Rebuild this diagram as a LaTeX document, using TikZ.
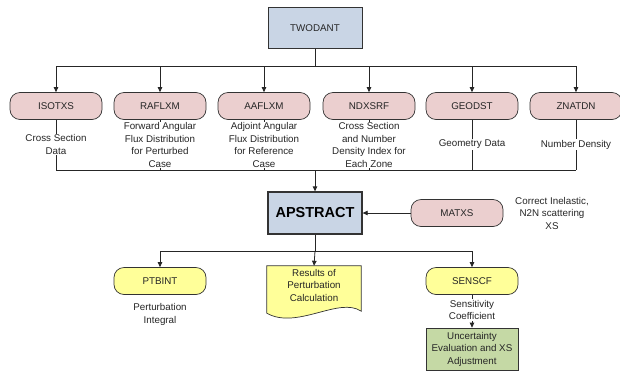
\documentclass[tikz,border=0pt]{standalone}
\usepackage{fontspec}
\setmainfont{Liberation Sans}
\usetikzlibrary{arrows.meta,backgrounds}
\definecolor{pinkf}{HTML}{EBCFCF}
\definecolor{bluef}{HTML}{C9D5E5}
\definecolor{yelf}{HTML}{FFFF99}
\definecolor{greenf}{HTML}{C5D9A5}
\definecolor{txt}{HTML}{262626}
\begin{document}
\begin{tikzpicture}[x=1pt,y=-1pt,
  font=\fontsize{9.8}{12.5}\selectfont, text=txt,
  conn/.style={line width=0.8pt, draw=black!85},
  arr/.style={conn,-{Triangle[length=5pt,width=4.5pt]}},
  bluebox/.style={draw=black!80, line width=0.8pt, fill=bluef, minimum width=94pt, minimum height=41pt, inner sep=0pt},
  pinkbox/.style={draw=black!80, line width=0.7pt, fill=pinkf, rounded corners=10pt, minimum width=92pt, minimum height=27pt, inner sep=0pt},
  yelbox/.style={pinkbox, fill=yelf},
  greenbox/.style={draw=black!80, line width=0.7pt, fill=greenf, minimum width=92pt, minimum height=42pt, inner sep=0pt, align=center},
  desc/.style={align=center, fill=white, inner sep=0.8pt},
  ]
\useasboundingbox (0,0) rectangle (620,370);

% top
\node[bluebox] (tw) at (315,28) {TWODANT};
\coordinate (busA) at (0,66);
\coordinate (busB) at (0,170);
\coordinate (busC) at (0,251);

\node[pinkbox] (iso) at (56,106) {ISOTXS};
\node[pinkbox] (raf) at (160,106) {RAFLXM};
\node[pinkbox] (aaf) at (264,106) {AAFLXM};
\node[pinkbox] (ndx) at (369,106) {NDXSRF};
\node[pinkbox] (geo) at (472,106) {GEODST};
\node[pinkbox] (zna) at (576,106) {ZNATDN};

\draw[conn] (tw.south) -- (tw.south |- busA);
\draw[conn] (iso.north |- busA) -- (zna.north |- busA);
\foreach \n in {iso,raf,aaf,ndx,geo,zna}
  \draw[arr] (\n.north |- busA) -- (\n.north);

% lines to lower bus
\foreach \n in {iso,raf,aaf,ndx,geo,zna}
  \draw[conn] (\n.south) -- (\n.south |- busB);
\draw[conn] (iso.south |- busB) -- (zna.south |- busB);

\node[desc] (disoo) at (56,144.5) {Cross Section\\Data};
\node[desc] (draf) at (160,144.8) {Forward Angular\\Flux Distribution\\for Perturbed\\Case};
\node[desc] (daaf) at (264,144.8) {Adjoint Angular\\Flux Distribution\\for Reference\\Case};
\node[desc] (dndx) at (369,144.8) {Cross Section\\and Number\\Density Index for\\Each Zone};
\node[desc] (dgeo) at (472,144.5) {Geometry Data};
\node[desc] (dzna) at (576,144.5) {Number Density};

% APSTRACT
\node[bluebox, line width=1.3pt, minimum height=42pt, font=\fontsize{14.5}{16}\selectfont\bfseries, text=black] (ap) at (315,213) {APSTRACT};
\draw[arr] (tw.south |- busB) -- (ap.north);

\node[pinkbox] (mat) at (457,213) {MATXS};
\draw[arr] (mat.west) -- (ap.east);
\node[align=center] (dmat) at (552,213) {Correct Inelastic,\\N2N scattering\\XS};

% lower part
\node[yelbox] (ptb) at (160,281) {PTBINT};
\node[yelbox] (sen) at (472,281) {SENSCF};
\node[align=center, inner sep=0pt, minimum width=94pt, minimum height=38pt] (res) at (314,285) {Results of\\Perturbation\\Calculation};
\begin{scope}[on background layer]
  \draw[draw=black!80, line width=0.7pt, fill=yelf]
    (res.north west) -- (res.north east) -- ([yshift=-7pt]res.south east)
    .. controls ([xshift=-22pt,yshift=8pt]res.south east) and ([xshift=30pt,yshift=-26pt]res.south west) ..
    ([yshift=-9pt]res.south west) -- cycle;
\end{scope}

\draw[conn] (ap.south) -- (ap.south |- busC);
\draw[conn] (ptb.north |- busC) -- (sen.north |- busC);
\draw[arr] (ptb.north |- busC) -- (ptb.north);
\draw[arr] (ap.south |- busC) -- (res.north);
\draw[arr] (sen.north |- busC) -- (sen.north);

\node[align=center] (dptb) at (160,314.5) {Perturbation\\Integral};

\node[greenbox] (gr) at (472,349) {Uncertainty\\Evaluation and XS\\Adjustment};
\draw[arr] (sen.south) -- (gr.north);
\node[desc] (dsen) at (472,310) {Sensitivity\\Coefficient};
\end{tikzpicture}
\end{document}
